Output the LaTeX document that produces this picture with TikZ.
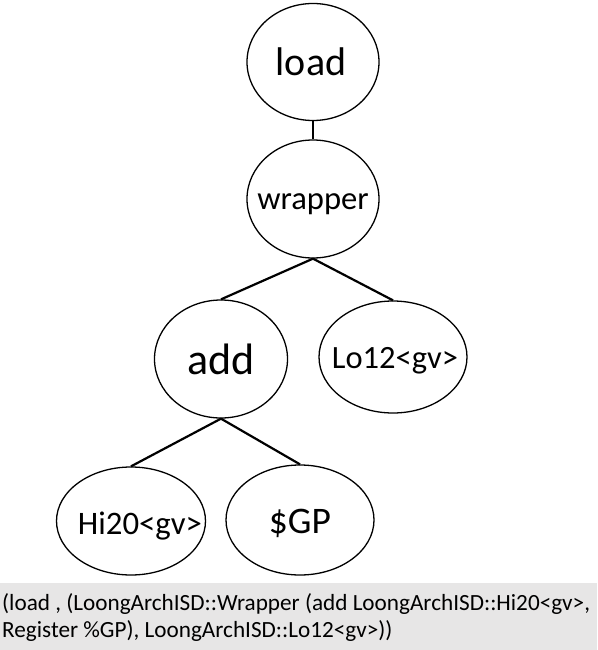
\documentclass[tikz,border=0pt]{standalone}
\usepackage{fontspec}
\setmainfont{Carlito}
\usetikzlibrary{shapes.geometric}
\definecolor{boxgray}{HTML}{E7E6E6}
\newcommand{\zw}[3]{\makebox[0pt]{\hspace*{#1}\raisebox{#2}[\height][\depth]{#3}}}
\begin{document}
\begin{tikzpicture}[x=1pt,y=-1pt,
  tnode/.style={ellipse,draw=black,line width=1.3pt,inner sep=0pt,align=center},
  conn/.style={line width=2.2pt}]
\useasboundingbox (0,0) rectangle (597,650);
\fill[boxgray] (0,583) rectangle (597,650);
\node[tnode,minimum width=132pt,minimum height=117pt,font=\fontsize{40}{44}\selectfont] (load) at (313,62) {\zw{-4pt}{0pt}{load}};
\node[tnode,minimum width=132pt,minimum height=118pt,font=\fontsize{32.6}{36}\selectfont] (wrapper) at (313,199) {\zw{0pt}{-5pt}{wrapper}};
\node[tnode,minimum width=133pt,minimum height=118pt,font=\fontsize{44}{48}\selectfont] (add) at (221,359) {\zw{0pt}{0pt}{add}};
\node[tnode,minimum width=148pt,minimum height=112pt,font=\fontsize{32.5}{36}\selectfont] (lo) at (393,357) {\zw{4pt}{-4pt}{Lo12<gv>}};
\node[tnode,minimum width=149pt,minimum height=108pt,font=\fontsize{32.8}{36}\selectfont] (hi) at (131,521) {\zw{18pt}{-5pt}{Hi20<gv>}};
\node[tnode,minimum width=148pt,minimum height=110pt,font=\fontsize{37.5}{40}\selectfont] (gp) at (300,520) {\zw{0pt}{-3pt}{\$GP}};
\draw[conn] (load.south) -- (wrapper.north);
\draw[conn] (wrapper.south) -- (add.north);
\draw[conn] (wrapper.south) -- (lo.north);
\draw[conn] (add.south) -- (hi.north);
\draw[conn] (add.south) -- (gp.north);
\node[anchor=north west,inner sep=0pt,align=left,font=\fontsize{23.2}{27}\selectfont] (code) at (2,593) {(load , (LoongArchISD::Wrapper (add LoongArchISD::Hi20<gv>,\\Register \%GP), LoongArchISD::Lo12<gv>))};
\end{tikzpicture}
\end{document}
